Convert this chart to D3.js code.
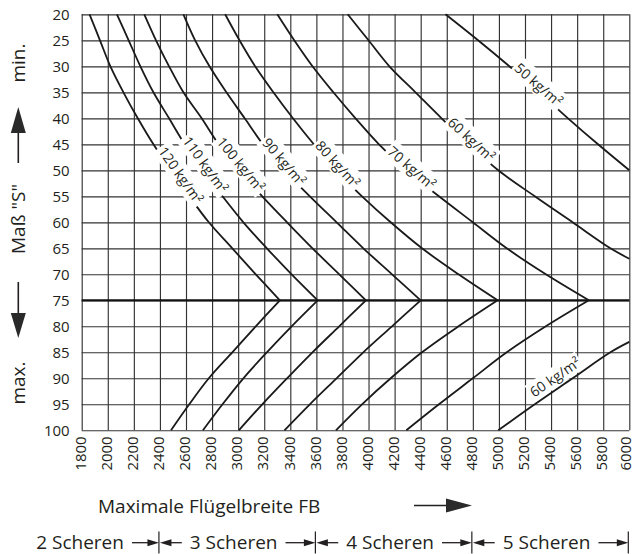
<!DOCTYPE html>
<html>
<head>
<meta charset="utf-8">
<script src="https://cdn.jsdelivr.net/npm/d3@7/dist/d3.min.js"></script>
<style>
  body { margin: 0; background: #fff; }
  svg { display: block; }
  svg text { font-family: "Open Sans", sans-serif; fill: #231f20; }
</style>
</head>
<body>
<script>
// Maß "S" (mm) against max. Flügelbreite FB (mm), one curve per kg/m²
var xTicks = [1800, 2000, 2200, 2400, 2600, 2800, 3000, 3200, 3400, 3600, 3800,
              4000, 4200, 4400, 4600, 4800, 5000, 5200, 5400, 5600, 5800, 6000];
var yTicks = [20, 25, 30, 35, 40, 45, 50, 55, 60, 65, 70, 75, 80, 85, 90, 95, 100];

// upper branches (S 20 -> 75)
var kgUpper = [120, 110, 100, 90, 80, 70, 60, 50];
var sUp   = [20, 25, 30, 35, 40, 45, 50, 55, 60, 65, 70, 75];
var sUp60 = [20, 25, 30, 35, 40, 45, 50, 55, 60, 65, 67];
var sUp50 = [20, 25, 30, 35, 40, 45, 50];
var up120 = [1860, 1940, 2020, 2120, 2230, 2350, 2485, 2625, 2775, 2955, 3135, 3320];
var up110 = [2070, 2160, 2250, 2350, 2470, 2590, 2730, 2880, 3040, 3220, 3410, 3610];
var up100 = [2280, 2370, 2470, 2580, 2720, 2850, 3005, 3185, 3375, 3570, 3775, 3980];
var up90  = [2580, 2670, 2780, 2910, 3050, 3190, 3355, 3550, 3755, 3960, 4180, 4400];
var up80  = [2900, 3010, 3130, 3270, 3420, 3580, 3750, 3950, 4170, 4410, 4690, 4990];
var up70  = [3300, 3430, 3570, 3730, 3900, 4080, 4290, 4540, 4800, 5060, 5360, 5690];
var up60  = [3840, 4000, 4160, 4360, 4560, 4770, 4995, 5275, 5565, 5855, 6000];
var up50  = [4590, 4840, 5080, 5310, 5530, 5760, 6000];
var upLabelS = [51.5, 49.5, 49.5, 49, 49.5, 50.3, 44.8, 34.3];

// lower branches (S 100 -> 75)
var kgLower = [120, 110, 100, 90, 80, 70, 60];
var sLow   = [100, 95, 90, 85, 80, 75];
var sLow60 = [100, 95, 90, 85, 83];
var low120 = [2485, 2625, 2775, 2955, 3135, 3320];
var low110 = [2730, 2880, 3040, 3220, 3410, 3610];
var low100 = [3005, 3185, 3375, 3570, 3775, 3980];
var low90  = [3355, 3550, 3755, 3960, 4180, 4400];
var low80  = [3750, 3950, 4170, 4410, 4690, 4990];
var low70  = [4290, 4540, 4800, 5060, 5360, 5690];
var low60  = [4995, 5275, 5565, 5855, 6000];
var lowLabelS = 91.5;

var scherenText = ["2 Scheren", "3 Scheren", "4 Scheren", "5 Scheren"];
var scherenFB = [1800, 2400, 3600, 4800, 6000];

var upper = [
  [sUp, up120], [sUp, up110], [sUp, up100], [sUp, up90],
  [sUp, up80], [sUp, up70], [sUp60, up60], [sUp50, up50]
];
var lower = [
  [sLow, low120], [sLow, low110], [sLow, low100], [sLow, low90],
  [sLow, low80], [sLow, low70], [sLow60, low60]
];

var svg = d3.select("body").append("svg")
  .attr("width", 634)
  .attr("height", 554);

var x = d3.scaleLinear().domain([1800, 6000]).range([81.7, 629.3]);
var y = d3.scaleLinear().domain([20, 100]).range([14.3, 430.3]);

// grid
var gx = svg.append("g")
  .attr("transform", "translate(0," + y(100) + ")")
  .call(d3.axisBottom(x).tickValues(xTicks).tickSize(y(20) - y(100)).tickFormat(""));
gx.select(".domain").remove();
gx.selectAll(".tick line").attr("stroke", "#333").attr("stroke-width", 1.15);

var gy = svg.append("g")
  .attr("transform", "translate(" + x(1800) + ",0)")
  .call(d3.axisLeft(y).tickValues(yTicks).tickSize(x(1800) - x(6000)).tickFormat(""));
gy.select(".domain").remove();
gy.selectAll(".tick line").attr("stroke", "#333").attr("stroke-width", 1.15);

// tick labels
var ly = svg.append("g")
  .attr("transform", "translate(" + (x(1800) - 12) + ",0)")
  .call(d3.axisLeft(y).tickValues(yTicks).tickSize(0).tickPadding(0));
ly.select(".domain").remove();
ly.selectAll("text").style("font-size", "15px").attr("fill", "#231f20");

var lx = svg.append("g")
  .attr("transform", "translate(0," + (y(100) + 6) + ")")
  .call(d3.axisBottom(x).tickValues(xTicks).tickSize(0).tickPadding(0).tickFormat(d3.format("d")));
lx.select(".domain").remove();
lx.selectAll("text")
  .style("font-size", "15px")
  .attr("fill", "#231f20")
  .attr("text-anchor", "end")
  .attr("transform", "rotate(-90)")
  .attr("x", 0).attr("y", 0)
  .attr("dy", function(d) { return d === 6000 ? "0.05em" : "0.25em"; });

var line = d3.line()
  .x(function(d) { return x(d[1]); })
  .y(function(d) { return y(d[0]); })
  .curve(d3.curveCatmullRom.alpha(0.5));

function pts(c) {
  return c[0].map(function(s, i) { return [s, c[1][i]]; });
}

// point + angle on a branch at a given S
function place(c, s) {
  var f = d3.scaleLinear().domain(c[0]).range(c[1]);
  var px = x(f(s)), py = y(s);
  var a = Math.atan2(y(s + 1.5) - y(s - 1.5), x(f(s + 1.5)) - x(f(s - 1.5)));
  var deg = a * 180 / Math.PI;
  if (deg > 90) deg -= 180;
  if (deg < -90) deg += 180;
  return {x: px, y: py, deg: deg};
}

// lower 60 kg label sits above its line
var lp = place(lower[6], lowLabelS);
var lg = svg.append("g")
  .attr("transform", "translate(" + lp.x + "," + lp.y + ") rotate(" + lp.deg + ")");
var lt = lg.append("text")
  .attr("y", -10.7).attr("dy", "0.35em")
  .attr("text-anchor", "middle")
  .style("font-size", "14px")
  .text(kgLower[6] + " kg/m²");
var lb = lt.node().getBBox();
lg.insert("rect", "text")
  .attr("x", lb.x - 1.5).attr("y", lb.y)
  .attr("width", lb.width + 3).attr("height", lb.height)
  .attr("fill", "#fff");

// 75 line
svg.append("line")
  .attr("x1", x(1800)).attr("x2", x(6000))
  .attr("y1", y(75)).attr("y2", y(75))
  .attr("stroke", "#111").attr("stroke-width", 2.2);

svg.selectAll("path.up")
  .data(upper).enter().append("path")
  .attr("class", "up")
  .attr("d", function(c) { return line(pts(c)); })
  .attr("fill", "none").attr("stroke", "#1a1a1a").attr("stroke-width", 1.8);

svg.selectAll("path.low")
  .data(lower).enter().append("path")
  .attr("class", "low")
  .attr("d", function(c) { return line(pts(c)); })
  .attr("fill", "none").attr("stroke", "#1a1a1a").attr("stroke-width", 1.8);

// curve labels on the upper branches
upper.forEach(function(c, i) {
  var p = place(c, upLabelS[i]);
  var g = svg.append("g")
    .attr("transform", "translate(" + p.x + "," + p.y + ") rotate(" + p.deg + ")");
  var t = g.append("text")
    .attr("y", -5).attr("dy", "0.35em")
    .attr("text-anchor", "middle")
    .style("font-size", "14px")
    .text(kgUpper[i] + " kg/m²");
  var b = t.node().getBBox();
  g.insert("rect", "text")
    .attr("x", b.x - 2).attr("y", b.y - 1)
    .attr("width", b.width + 4).attr("height", b.height + 2)
    .attr("fill", "#fff");
});

// left side labels
function vtext(txt, cy) {
  svg.append("text")
    .attr("transform", "translate(25," + cy + ") rotate(-90)")
    .attr("text-anchor", "middle")
    .style("font-size", "19px")
    .text(txt);
}
vtext("min.", 63);
vtext("Maß \"S\"", 219);
vtext("max.", 383);

function arrowV(x0, yTail, yBase, yTip) {
  svg.append("line")
    .attr("x1", x0).attr("x2", x0).attr("y1", yTail).attr("y2", yBase)
    .attr("stroke", "#231f20").attr("stroke-width", 1.6);
  svg.append("path")
    .attr("d", "M" + x0 + "," + yTip + "L" + (x0 - 7.5) + "," + yBase + "L" + (x0 + 7.5) + "," + yBase + "Z")
    .attr("fill", "#2a2a2a");
}
arrowV(18.3, 163, 133, 107);
arrowV(18.3, 282, 313, 338);

// x axis title
svg.append("text")
  .attr("x", 98).attr("y", 513)
  .style("font-size", "19px")
  .text("Maximale Flügelbreite FB");
svg.append("line")
  .attr("x1", 414).attr("x2", 447).attr("y1", 505.5).attr("y2", 505.5)
  .attr("stroke", "#231f20").attr("stroke-width", 1.6);
svg.append("path")
  .attr("d", "M472,505.5L446,498.5L446,512.5Z")
  .attr("fill", "#2a2a2a");

// Scheren ranges
var rowY = 542.7, baseY = 548.5;
function headR(xe) {
  svg.append("path")
    .attr("d", "M" + xe + "," + rowY + "L" + (xe - 11.5) + "," + (rowY - 3.5) + "L" + (xe - 11.5) + "," + (rowY + 3.5) + "Z")
    .attr("fill", "#231f20");
}
function headL(xs) {
  svg.append("path")
    .attr("d", "M" + xs + "," + rowY + "L" + (xs + 11.5) + "," + (rowY - 3.5) + "L" + (xs + 11.5) + "," + (rowY + 3.5) + "Z")
    .attr("fill", "#231f20");
}
function shaft(a, b) {
  svg.append("line")
    .attr("x1", a).attr("x2", b).attr("y1", rowY).attr("y2", rowY)
    .attr("stroke", "#231f20").attr("stroke-width", 1.3);
}
scherenFB.slice(1).forEach(function(v) {
  svg.append("line")
    .attr("x1", x(v) - 1).attr("x2", x(v) - 1)
    .attr("y1", 531.5).attr("y2", 553.5)
    .attr("stroke", "#231f20").attr("stroke-width", 1.2);
});
scherenText.forEach(function(txt, i) {
  var a = x(scherenFB[i]), b = x(scherenFB[i + 1]) - 1;
  var t = svg.append("text")
    .attr("y", baseY)
    .style("font-size", "19px")
    .text(txt);
  var w = t.node().getComputedTextLength();
  var xs;
  if (i === 0) {
    xs = b - 35 - w;
  } else {
    xs = (a + b) / 2 - w / 2 - 4;
    headL(a);
    shaft(a + 10, xs - 8);
  }
  t.attr("x", xs);
  shaft(xs + w + 8, b - 10);
  headR(b);
});
</script>
</body>
</html>
